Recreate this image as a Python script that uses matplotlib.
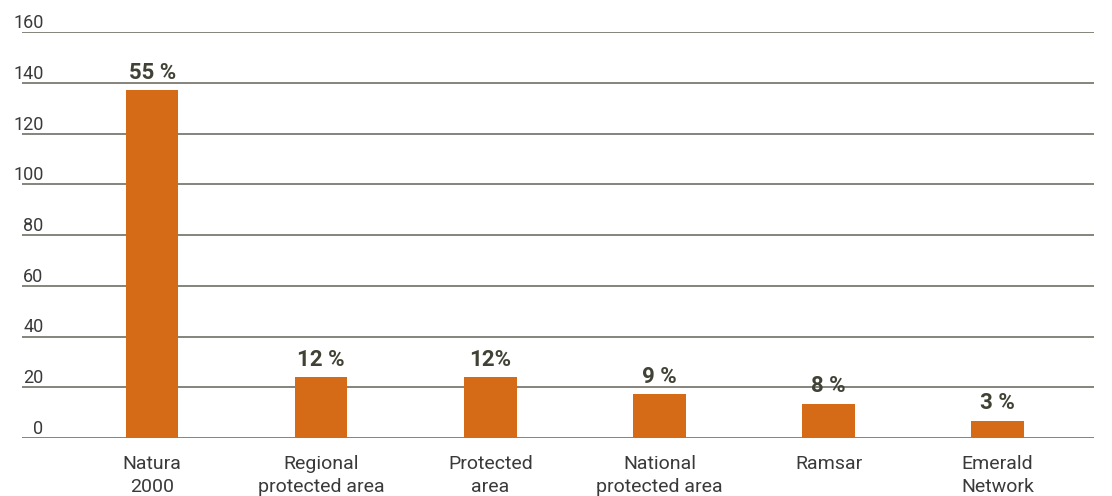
import matplotlib
matplotlib.use("Agg")
import matplotlib.pyplot as plt

categories = ["Natura\n2000", "Regional\nprotected area", "Protected\narea",
              "National\nprotected area", "Ramsar", "Emerald\nNetwork"]
values = [137, 24, 24, 17.3, 13.4, 6.7]
pct_labels = ["55 %", "12 %", "12%", "9 %", "8 %", "3 %"]
yticks = [0, 20, 40, 60, 80, 100, 120, 140, 160]

plt.rcParams['font.family'] = ['Roboto', 'DejaVu Sans']

fig = plt.figure(figsize=(11.12, 4.96), dpi=100)
ax = fig.add_axes([22/1112, 1-438/496, (1094-22)/1112, (438-32)/496])

x = list(range(len(categories)))
ax.bar(x, values, width=0.31, color="#D56A17", zorder=3)
for xi, v, lab in zip(x, values, pct_labels):
    ax.text(xi, v + 2.6, lab, ha='center', va='bottom', fontsize=16,
            fontweight='bold', color="#3F4234", zorder=4)

ax.set_xlim(-0.77, 5.57)
ax.set_ylim(0, 160)
ax.set_yticks(yticks)
ax.set_yticklabels([str(t) for t in yticks])
ax.yaxis.grid(True, color="#84847C", linewidth=1.4, zorder=1)
ax.set_axisbelow(True)
for s in ax.spines.values():
    s.set_visible(False)
ax.tick_params(axis='y', length=0, pad=-15.5, labelsize=13, labelcolor="#3a3a3a")
for t in ax.get_yticklabels():
    t.set_verticalalignment('bottom')
ax.set_xticks(x)
ax.set_xticklabels(categories, fontsize=14, color="#3a3a3a", linespacing=1.4)
ax.tick_params(axis='x', length=0, pad=12)

fig.savefig("out.png", dpi=100)
